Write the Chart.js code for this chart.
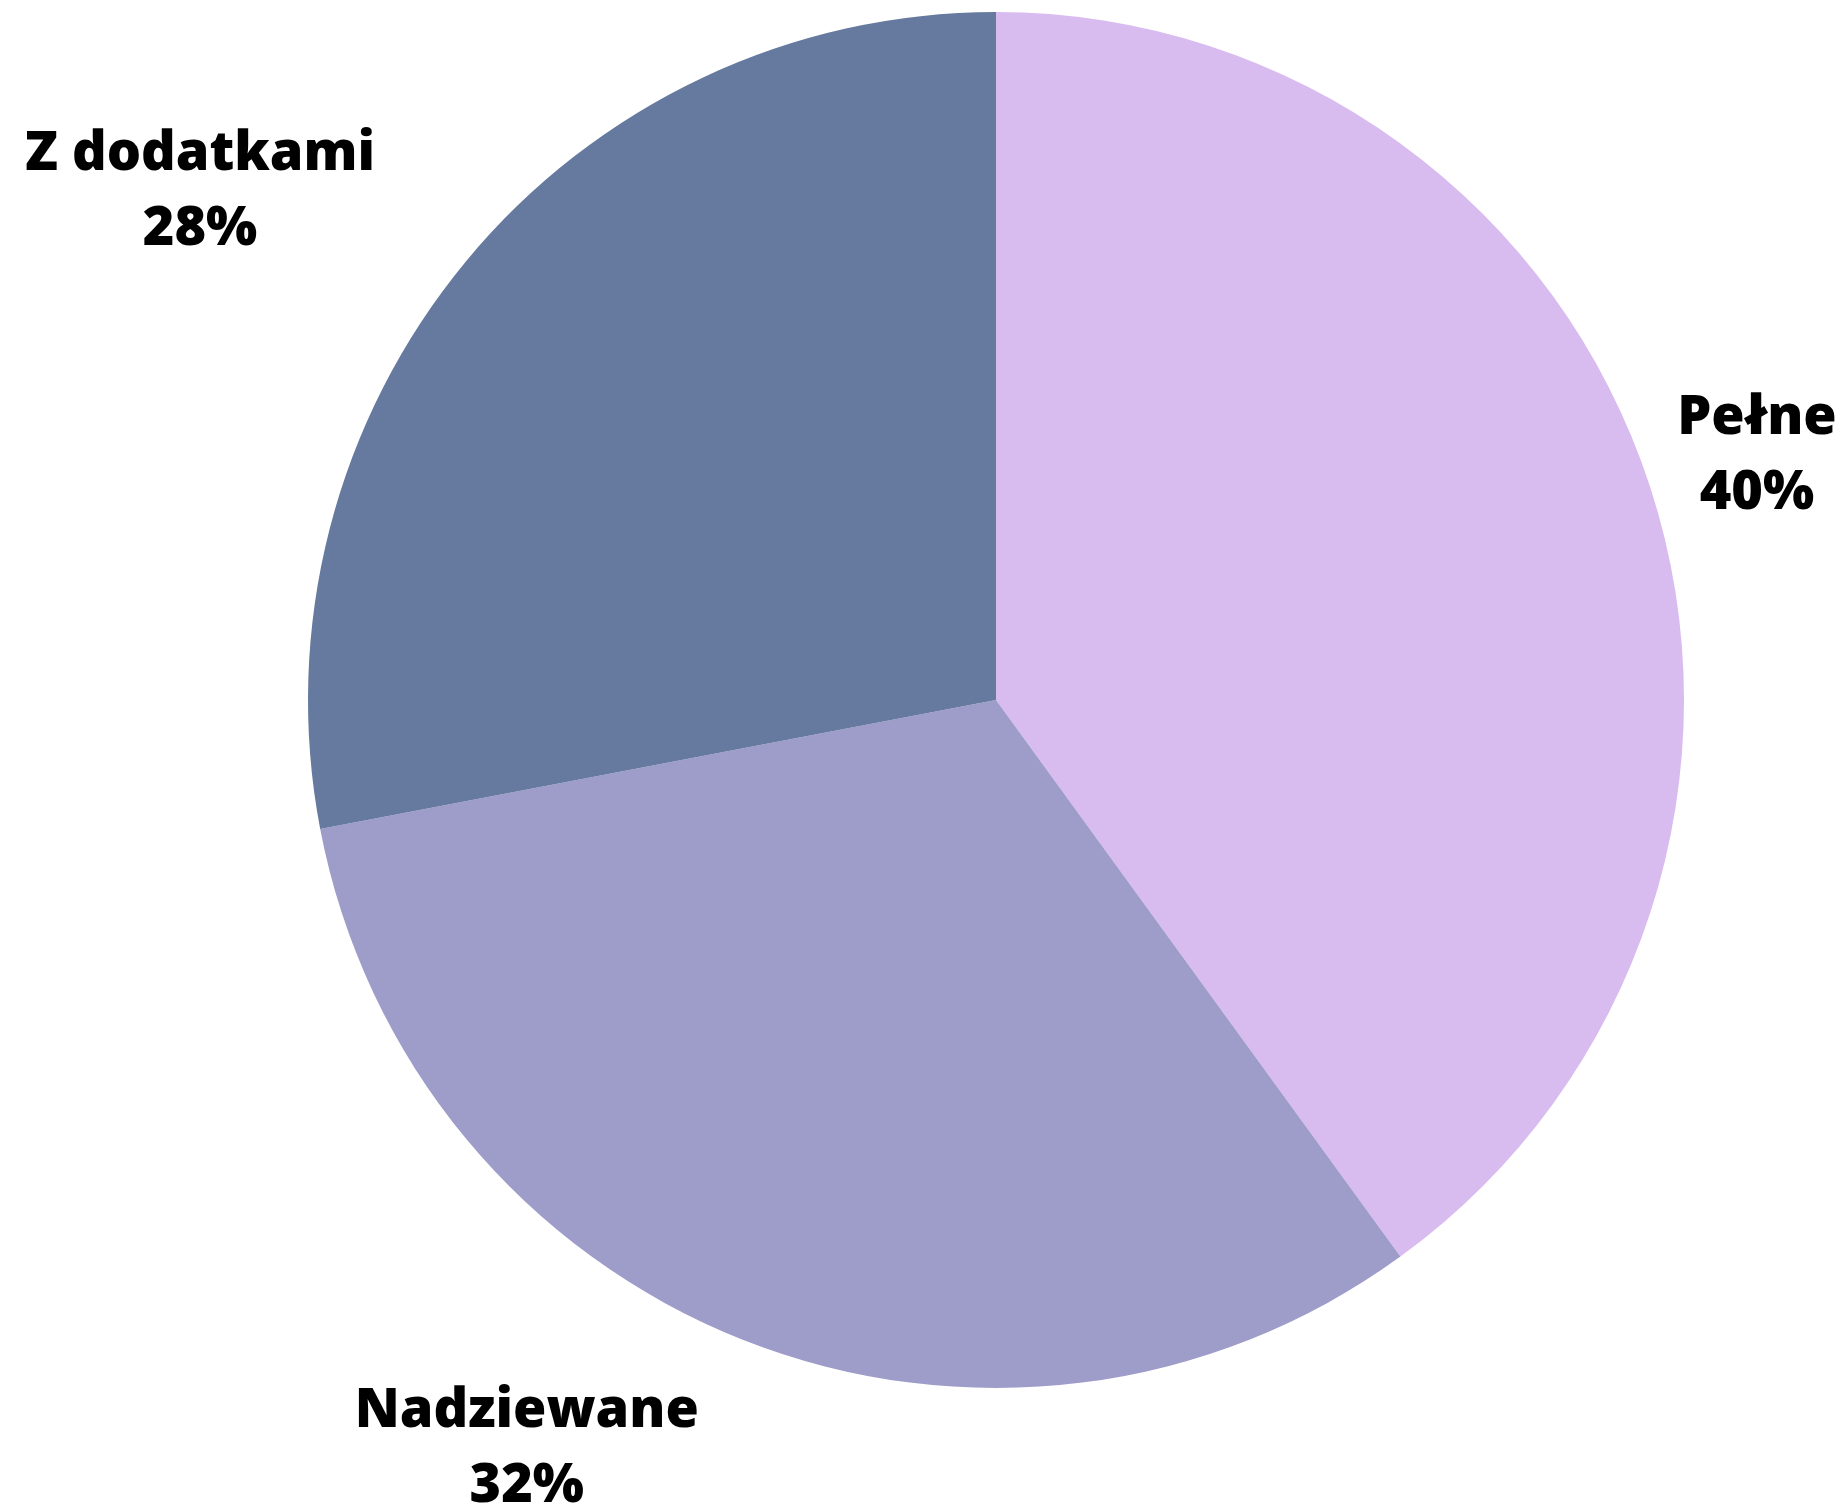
<!DOCTYPE html>
<html>
<head>
<meta charset="utf-8">
<script src="https://cdn.jsdelivr.net/npm/chart.js@4"></script>
<style>
  html, body { margin: 0; padding: 0; background: #ffffff; }
  #wrap { width: 1848px; height: 1510px; }
</style>
</head>
<body>
<div id="wrap"><canvas id="pie" width="1848" height="1510"></canvas></div>
<script>
const labels = ['Pełne', 'Nadziewane', 'Z dodatkami'];
const values = [40, 32, 28];
const colors = ['#d9bcef', '#9e9cc9', '#66799f'];

// label anchors, relative to the pie centre, in units of the radius
const labelAnchors = [
    [1.106, -0.355],
    [-0.682, 1.088],
    [-1.157, -0.739]
];

const sliceLabels = {
    id: 'sliceLabels',
    afterDatasetsDraw(chart) {
        const ctx = chart.ctx;
        const meta = chart.getDatasetMeta(0);
        const total = values.reduce((a, b) => a + b, 0);
        ctx.save();
        ctx.fillStyle = '#000000';
        ctx.font = '800 54px "Open Sans"';
        ctx.textAlign = 'center';
        ctx.textBaseline = 'middle';
        meta.data.forEach((arc, i) => {
            const r = arc.outerRadius;
            const x = arc.x + labelAnchors[i][0] * r;
            const y = arc.y + labelAnchors[i][1] * r;
            const pct = Math.round(values[i] / total * 100) + '%';
            ctx.fillText(labels[i], x, y - 37);
            ctx.fillText(pct, x, y + 38);
        });
        ctx.restore();
    }
};

new Chart(document.getElementById('pie'), {
    type: 'pie',
    data: {
        labels: labels,
        datasets: [{
            data: values,
            backgroundColor: colors,
            borderWidth: 0
        }]
    },
    options: {
        responsive: false,
        animation: false,
        layout: {
            padding: {top: 12, bottom: 122, left: 308, right: 164}
        },
        plugins: {
            legend: {display: false},
            tooltip: {enabled: false}
        }
    },
    plugins: [sliceLabels]
});
</script>
</body>
</html>
